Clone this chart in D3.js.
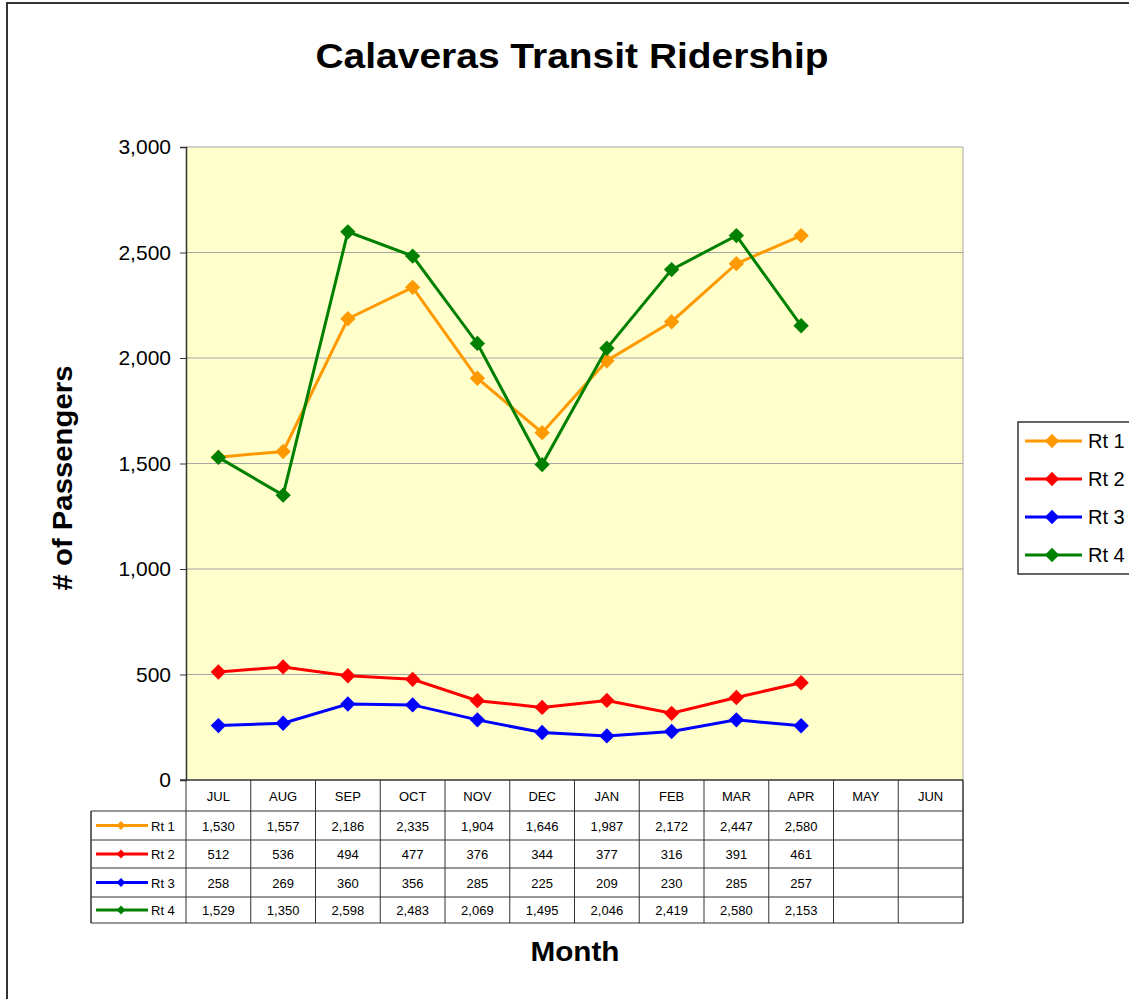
<!DOCTYPE html>
<html>
<head>
<meta charset="utf-8">
<script src="https://cdn.jsdelivr.net/npm/d3@7"></script>
<style>
  body { margin: 0; background: #fff; }
  svg text { font-family: Arial, "Liberation Sans", sans-serif; }
</style>
</head>
<body>
<svg id="chart" width="1129" height="999"></svg>
<script>
// data
var months = ['JUL', 'AUG', 'SEP', 'OCT', 'NOV', 'DEC', 'JAN', 'FEB', 'MAR', 'APR', 'MAY', 'JUN'];
var routes = ['Rt 1', 'Rt 2', 'Rt 3', 'Rt 4'];
var colors = ['#FF9900', '#FF0000', '#0000FF', '#008000'];
var rt1 = [1530, 1557, 2186, 2335, 1904, 1646, 1987, 2172, 2447, 2580];
var rt2 = [512, 536, 494, 477, 376, 344, 377, 316, 391, 461];
var rt3 = [258, 269, 360, 356, 285, 225, 209, 230, 285, 257];
var rt4 = [1529, 1350, 2598, 2483, 2069, 1495, 2046, 2419, 2580, 2153];
var yTicks = [0, 500, 1000, 1500, 2000, 2500, 3000];

var series = [rt1, rt2, rt3, rt4];

var chart_vars = {
  left: 186, right: 963, top: 147, bottom: 780,
  rowTops: [780, 811, 840, 868, 897, 923],
  tableLeft: 91
};

var svg = d3.select('svg#chart');

// outer chart border (runs off the right/bottom edge)
svg.append('rect')
  .attr('x', 7).attr('y', 3).attr('width', 1140).attr('height', 1010)
  .attr('fill', 'none').attr('stroke', '#333').attr('stroke-width', 2);

var xScale = d3.scaleBand().domain(months).range([chart_vars.left, chart_vars.right]);
var yScale = d3.scaleLinear().domain([0, 3000]).range([chart_vars.bottom, chart_vars.top]);

// plot background
svg.append('rect')
  .attr('x', chart_vars.left).attr('y', chart_vars.top)
  .attr('width', chart_vars.right - chart_vars.left)
  .attr('height', chart_vars.bottom - chart_vars.top)
  .attr('fill', '#FFFFCC');

// gridlines
svg.append('g').selectAll('line')
  .data(yTicks.filter(function(d) { return d > 0; }))
  .enter().append('line')
  .attr('x1', chart_vars.left).attr('x2', chart_vars.right)
  .attr('y1', function(d) { return yScale(d); })
  .attr('y2', function(d) { return yScale(d); })
  .attr('stroke', '#a6a6a6').attr('stroke-width', 1);

// right edge of plot
svg.append('line')
  .attr('x1', chart_vars.right).attr('x2', chart_vars.right)
  .attr('y1', chart_vars.top).attr('y2', chart_vars.bottom)
  .attr('stroke', '#a6a6a6');

// y axis
var axis_left = d3.axisLeft(yScale).tickValues(yTicks).tickSize(6).tickPadding(9)
  .tickFormat(d3.format(','));
var gy = svg.append('g')
  .attr('class', 'axis axis--y')
  .attr('transform', 'translate(' + chart_vars.left + ',0)')
  .call(axis_left);
gy.select('path.domain').attr('stroke', '#333').attr('stroke-width', 1.5);
gy.selectAll('g.tick line').attr('stroke', '#333');
gy.selectAll('g.tick text').attr('font-size', 21).attr('fill', '#000')
  .attr('font-family', 'Arial, "Liberation Sans", sans-serif');

// lines + markers
var line = d3.line()
  .x(function(d, i) { return xScale(months[i]) + xScale.bandwidth() / 2; })
  .y(function(d) { return yScale(d); });

var diamond = d3.symbol().type(d3.symbolDiamond2).size(150);

series.forEach(function(s, k) {
  var g = svg.append('g').attr('class', 'series');
  g.append('path')
    .attr('d', line(s))
    .attr('fill', 'none')
    .attr('stroke', colors[k])
    .attr('stroke-width', 3);
  g.selectAll('path.marker')
    .data(s)
    .enter().append('path')
    .attr('class', 'marker')
    .attr('d', diamond)
    .attr('transform', function(d, i) {
      return 'translate(' + (xScale(months[i]) + xScale.bandwidth() / 2) + ',' + yScale(d) + ')';
    })
    .attr('fill', colors[k]);
});

// x axis line
svg.append('line')
  .attr('x1', chart_vars.left - 6).attr('x2', chart_vars.right)
  .attr('y1', chart_vars.bottom).attr('y2', chart_vars.bottom)
  .attr('stroke', '#333').attr('stroke-width', 1.5);

// data table
var rows = chart_vars.rowTops;
var tbl = svg.append('g').attr('class', 'datatable');

// horizontal lines
rows.slice(1).forEach(function(y) {
  tbl.append('line')
    .attr('x1', chart_vars.tableLeft).attr('x2', chart_vars.right)
    .attr('y1', y).attr('y2', y)
    .attr('stroke', '#333').attr('stroke-width', 1);
});
// vertical lines (month separators)
months.forEach(function(m, i) {
  tbl.append('line')
    .attr('x1', xScale(m)).attr('x2', xScale(m))
    .attr('y1', rows[0]).attr('y2', rows[rows.length - 1])
    .attr('stroke', '#333').attr('stroke-width', 1);
});
tbl.append('line')
  .attr('x1', chart_vars.right).attr('x2', chart_vars.right)
  .attr('y1', rows[0]).attr('y2', rows[rows.length - 1])
  .attr('stroke', '#333').attr('stroke-width', 1.5);
tbl.append('line')
  .attr('x1', chart_vars.tableLeft).attr('x2', chart_vars.tableLeft)
  .attr('y1', rows[1]).attr('y2', rows[rows.length - 1])
  .attr('stroke', '#333').attr('stroke-width', 1.5);

// header
tbl.selectAll('text.month')
  .data(months).enter().append('text')
  .attr('class', 'month')
  .attr('x', function(d) { return xScale(d) + xScale.bandwidth() / 2; })
  .attr('y', (rows[0] + rows[1]) / 2 + 5)
  .attr('text-anchor', 'middle').attr('font-size', 13)
  .text(function(d) { return d; });

// rows
series.forEach(function(s, k) {
  var yMid = (rows[k + 1] + rows[k + 2]) / 2;
  tbl.append('line')
    .attr('x1', 96).attr('x2', 148)
    .attr('y1', yMid).attr('y2', yMid)
    .attr('stroke', colors[k]).attr('stroke-width', 3);
  tbl.append('path')
    .attr('d', d3.symbol().type(d3.symbolDiamond2).size(50))
    .attr('transform', 'translate(121,' + yMid + ')')
    .attr('fill', colors[k]);
  tbl.append('text')
    .attr('x', 151).attr('y', yMid + 5)
    .attr('font-size', 13)
    .text(routes[k]);
  tbl.selectAll('text.val' + k)
    .data(s).enter().append('text')
    .attr('class', 'val' + k)
    .attr('x', function(d, i) { return xScale(months[i]) + xScale.bandwidth() / 2; })
    .attr('y', yMid + 5)
    .attr('text-anchor', 'middle').attr('font-size', 13)
    .text(function(d) { return d3.format(',')(d); });
});

// legend
var legend = svg.append('g').attr('class', 'legend');
legend.append('rect')
  .attr('x', 1018).attr('y', 422).attr('width', 130).attr('height', 152)
  .attr('fill', '#fff').attr('stroke', '#333').attr('stroke-width', 1.5);
routes.forEach(function(r, k) {
  var y = 441 + k * 38;
  legend.append('line')
    .attr('x1', 1025).attr('x2', 1082).attr('y1', y).attr('y2', y)
    .attr('stroke', colors[k]).attr('stroke-width', 3);
  legend.append('path')
    .attr('d', d3.symbol().type(d3.symbolDiamond2).size(130))
    .attr('transform', 'translate(1052,' + y + ')')
    .attr('fill', colors[k]);
  legend.append('text')
    .attr('x', 1088).attr('y', y + 7)
    .attr('font-size', 20)
    .text(r);
});

// titles (the original type is a bit wider than Arial, so stretch to width)
svg.append('text')
  .attr('x', 572).attr('y', 68)
  .attr('text-anchor', 'middle')
  .attr('font-size', 35).attr('font-weight', 'bold')
  .attr('textLength', 513).attr('lengthAdjust', 'spacingAndGlyphs')
  .text('Calaveras Transit Ridership');

svg.append('text')
  .attr('transform', 'translate(72,478) rotate(-90)')
  .attr('text-anchor', 'middle')
  .attr('font-size', 27).attr('font-weight', 'bold')
  .attr('textLength', 225).attr('lengthAdjust', 'spacingAndGlyphs')
  .text('# of Passengers');

svg.append('text')
  .attr('x', 575).attr('y', 961)
  .attr('text-anchor', 'middle')
  .attr('font-size', 27).attr('font-weight', 'bold')
  .attr('textLength', 89).attr('lengthAdjust', 'spacingAndGlyphs')
  .text('Month');
</script>
</body>
</html>
